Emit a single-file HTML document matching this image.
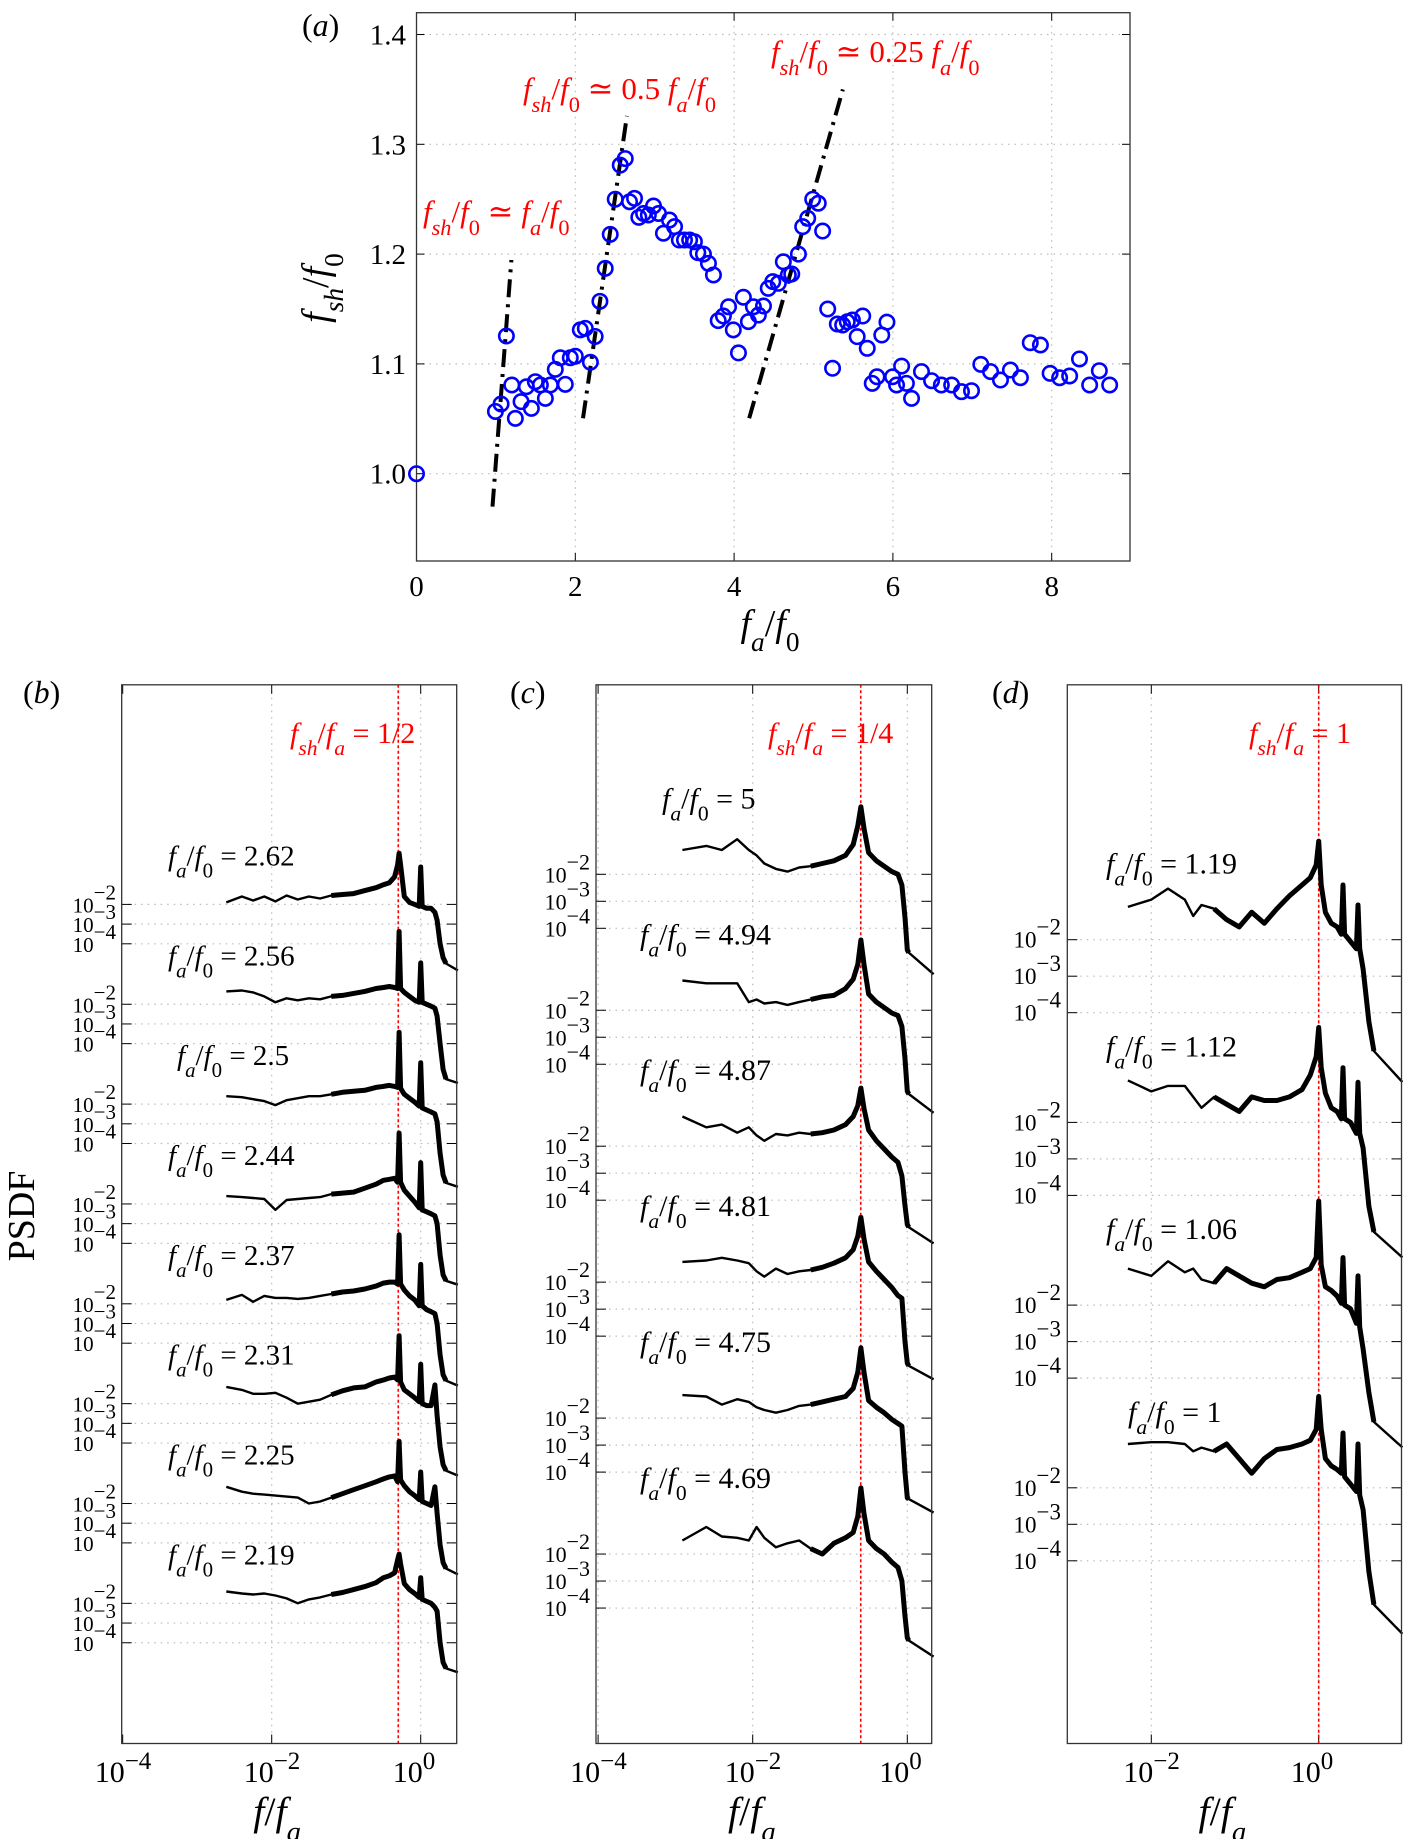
<!DOCTYPE html>
<html><head><meta charset="utf-8"><style>
html,body{margin:0;padding:0;background:#fff}
svg{display:block}
svg text, svg tspan{font-family:"Liberation Serif","DejaVu Serif",serif}
</style></head><body>
<svg id="fig" width="1403" height="1839" viewBox="0 0 1403 1839" xmlns="http://www.w3.org/2000/svg"></svg>
<script>
// ---------- Panel (a) data ----------
const aX = [0,0.994,1.065,1.132,1.2,1.245,1.317,1.384,1.447,1.497,1.56,1.623,1.686,1.748,1.811,1.874,1.937,2.0,2.063,2.126,2.19,2.25,2.31,2.377,2.44,2.503,2.566,2.629,2.683,2.746,2.80,2.86,2.92,2.985,3.048,3.11,3.186,3.25,3.31,3.375,3.44,3.50,3.543,3.614,3.677,3.74,3.80,3.865,3.93,3.99,4.055,4.117,4.18,4.243,4.306,4.37,4.43,4.487,4.557,4.62,4.683,4.726,4.81,4.864,4.927,4.99,5.06,5.115,5.179,5.24,5.30,5.367,5.425,5.49,5.55,5.62,5.677,5.74,5.80,5.86,5.925,5.996,6.046,6.11,6.17,6.235,6.36,6.487,6.61,6.74,6.864,6.99,7.107,7.23,7.355,7.48,7.606,7.73,7.858,7.98,8.10,8.226,8.35,8.478,8.60,8.73];
const aY = [1.0,1.0567,1.0635,1.1254,1.0808,1.0504,1.0656,1.0792,1.0595,1.0838,1.0808,1.0686,1.0808,1.095,1.1056,1.0814,1.1056,1.107,1.131,1.1324,1.1015,1.125,1.157,1.187,1.218,1.25,1.281,1.287,1.2477,1.2508,1.2335,1.237,1.2356,1.2438,1.237,1.219,1.231,1.225,1.2128,1.2128,1.2128,1.2113,1.2013,1.2,1.1916,1.181,1.1394,1.1436,1.152,1.131,1.110,1.1607,1.1385,1.152,1.1445,1.1527,1.1688,1.1749,1.1734,1.193,1.181,1.1819,1.2,1.225,1.2326,1.25,1.2463,1.221,1.15,1.096,1.1363,1.1354,1.1384,1.14,1.1248,1.1436,1.1142,1.0823,1.0883,1.1263,1.138,1.0883,1.0808,1.098,1.0823,1.0686,1.093,1.0847,1.0808,1.0808,1.0747,1.0756,1.0996,1.093,1.0853,1.0944,1.0874,1.1193,1.1172,1.0914,1.0874,1.089,1.1045,1.0808,1.0938,1.0808];
const fitX0 = [0.957, 2.097, 4.19];
const fitY0 = [0.97, 1.0505, 1.0505];
const fitX1 = [1.195, 2.65, 5.37];
const fitY1 = [1.1946, 1.3258, 1.35];
const aXTicks = [0,2,4,6,8];
const aYTicks = [1.0,1.1,1.2,1.3,1.4];
const aYTickLabels = ["1.0","1.1","1.2","1.3","1.4"];

// ---------- Panel (b) data ----------
const bFreq = [-2.61,-2.4,-2.25,-2.1,-1.95,-1.8,-1.65,-1.5,-1.35,-1.2,-1.05,-0.9,-0.75,-0.6,-0.5,-0.42,-0.35,-0.31,-0.29,-0.27,-0.22,-0.15,-0.08,-0.02,0,0.02,0.08,0.14,0.19,0.22,0.26,0.3,0.34,0.5];
const bLabels = ["2.62","2.56","2.5","2.44","2.37","2.31","2.25","2.19"];
const b262 = [-1.9,-1.6,-1.8,-1.6,-1.85,-1.55,-1.75,-1.6,-1.7,-1.55,-1.5,-1.45,-1.3,-1.15,-1.0,-0.9,-0.6,0.0,0.6,0.0,-1.6,-1.9,-2.0,-2.1,-0.1,-2.1,-2.2,-2.2,-2.4,-2.8,-4.0,-4.7,-5.0,-5.35];
const b256 = [-1.35,-1.3,-1.4,-1.6,-1.9,-1.7,-1.8,-1.7,-1.75,-1.6,-1.55,-1.45,-1.35,-1.2,-1.15,-1.1,-1.15,-1.2,1.7,-1.2,-1.4,-1.6,-1.8,-1.9,0.1,-1.9,-2.0,-2.1,-2.2,-2.6,-4.0,-5.3,-5.8,-6.0];
const b250 = [-1.6,-1.65,-1.75,-1.85,-2.05,-1.8,-1.7,-1.6,-1.6,-1.5,-1.4,-1.35,-1.3,-1.15,-1.1,-1.05,-1.1,-1.15,1.65,-1.2,-1.5,-1.7,-1.9,-2.1,0.1,-2.2,-2.3,-2.4,-2.5,-2.9,-4.5,-5.6,-6.0,-6.2];
const b244 = [-1.6,-1.65,-1.7,-1.75,-2.3,-1.8,-1.75,-1.7,-1.65,-1.5,-1.45,-1.4,-1.2,-1.0,-0.8,-0.75,-0.7,-0.9,1.6,-0.9,-1.3,-1.6,-1.9,-2.2,0.1,-2.3,-2.4,-2.5,-2.6,-3.0,-4.6,-5.6,-5.9,-6.1];
const b237 = [-1.8,-1.55,-1.9,-1.6,-1.7,-1.7,-1.75,-1.7,-1.6,-1.5,-1.4,-1.35,-1.25,-1.1,-0.95,-0.9,-0.9,-1.0,1.5,-1.0,-1.3,-1.6,-1.8,-2.1,0.0,-2.1,-2.3,-2.4,-2.5,-3.0,-4.6,-5.6,-5.9,-6.15];
const b231 = [-1.15,-1.3,-1.5,-1.5,-1.45,-1.7,-2.0,-1.9,-1.8,-1.55,-1.35,-1.2,-1.15,-0.9,-0.8,-0.7,-0.65,-0.8,1.45,-0.9,-1.3,-1.5,-1.7,-1.9,0.0,-2.0,-2.1,-2.1,-1.05,-2.6,-4.2,-5.1,-5.4,-5.65];
const b225 = [-1.15,-1.4,-1.5,-1.55,-1.6,-1.65,-1.7,-2.0,-1.9,-1.7,-1.5,-1.3,-1.1,-0.9,-0.75,-0.65,-0.6,-0.9,1.15,-0.8,-1.1,-1.4,-1.6,-1.8,-0.4,-1.9,-2.0,-2.1,-1.15,-2.5,-4.1,-5.0,-5.3,-5.6];
const b219 = [-1.4,-1.5,-1.55,-1.5,-1.6,-1.75,-2.0,-1.8,-1.7,-1.55,-1.45,-1.3,-1.15,-0.95,-0.7,-0.6,-0.45,0.2,0.5,0.0,-1.0,-1.3,-1.5,-1.7,-0.7,-1.8,-1.9,-2.0,-2.2,-2.4,-4.0,-5.0,-5.3,-5.5];

// ---------- Panel (c) data ----------
const cFreq = [-2.91,-2.6,-2.4,-2.2,-2.05,-1.95,-1.85,-1.7,-1.55,-1.4,-1.25,-1.1,-0.95,-0.8,-0.7,-0.64,-0.6,-0.56,-0.5,-0.4,-0.3,-0.2,-0.12,-0.07,-0.03,0,0.02,0.34];
const cLabels = ["5","4.94","4.87","4.81","4.75","4.69"];
const c500 = [-1.1,-0.95,-1.1,-0.7,-1.1,-1.3,-1.6,-1.8,-1.9,-1.75,-1.7,-1.6,-1.5,-1.3,-0.9,-0.2,0.5,-0.3,-1.2,-1.5,-1.7,-1.9,-2.0,-2.4,-3.6,-4.8,-4.9,-5.7];
const c494 = [-0.9,-1.0,-1.0,-1.0,-1.7,-1.6,-1.75,-1.7,-1.8,-1.7,-1.6,-1.5,-1.45,-1.2,-0.85,-0.3,0.6,-0.3,-1.4,-1.7,-1.9,-2.1,-2.2,-2.6,-3.8,-5.0,-5.1,-5.8];
const c487 = [-0.9,-1.3,-1.2,-1.5,-1.3,-1.6,-1.8,-1.55,-1.6,-1.5,-1.55,-1.5,-1.4,-1.2,-0.9,-0.5,0.15,-0.6,-1.4,-1.8,-2.1,-2.4,-2.6,-3.1,-4.2,-4.9,-5.0,-5.6];
const c481 = [-1.25,-1.2,-1.1,-1.2,-1.3,-1.6,-1.8,-1.5,-1.7,-1.6,-1.55,-1.45,-1.3,-1.1,-0.8,-0.3,0.4,-0.4,-1.25,-1.6,-1.9,-2.2,-2.5,-2.6,-4.2,-5.0,-5.1,-5.6];
const c475 = [-1.15,-1.2,-1.5,-1.3,-1.4,-1.6,-1.7,-1.8,-1.7,-1.55,-1.5,-1.4,-1.3,-1.2,-0.9,-0.3,0.6,-0.3,-1.35,-1.6,-1.8,-2.05,-2.2,-2.3,-4.0,-4.95,-5.0,-5.5];
const c469 = [-1.5,-1.0,-1.35,-1.4,-1.5,-1.0,-1.4,-1.75,-1.6,-1.5,-1.8,-2.0,-1.6,-1.4,-1.2,-0.6,0.45,-0.5,-1.5,-1.8,-2.0,-2.3,-2.5,-3.0,-4.3,-5.1,-5.2,-5.8];

// ---------- Panel (d) data ----------
const dFreq = [-2.28,-2.0,-1.8,-1.6,-1.5,-1.4,-1.25,-1.1,-0.95,-0.8,-0.65,-0.5,-0.35,-0.2,-0.1,-0.03,0,0.03,0.08,0.15,0.22,0.27,0.29,0.31,0.38,0.45,0.47,0.49,0.53,0.6,0.66,1.0];
const dLabels = ["1.19","1.12","1.06","1"];
const d119 = [-1.1,-0.9,-0.6,-0.9,-1.35,-1.05,-1.15,-1.45,-1.65,-1.25,-1.55,-1.15,-0.8,-0.5,-0.3,0.05,0.7,-0.5,-1.25,-1.55,-1.65,-1.85,-0.5,-1.85,-2.05,-2.25,-1.05,-2.25,-2.8,-4.25,-5.05,-5.9];
const d112 = [-0.85,-1.15,-1.0,-1.0,-1.3,-1.6,-1.3,-1.5,-1.7,-1.3,-1.4,-1.4,-1.3,-1.1,-0.7,-0.2,0.6,-0.5,-1.2,-1.6,-1.7,-1.9,-0.5,-1.9,-2.0,-2.3,-0.9,-2.3,-2.7,-4.3,-5.0,-5.7];
const d106 = [-1.0,-1.2,-0.8,-1.1,-1.0,-1.3,-1.4,-1.0,-1.2,-1.4,-1.5,-1.3,-1.25,-1.1,-1.0,-0.7,0.85,-0.9,-1.5,-1.6,-1.75,-1.95,-0.7,-2.0,-2.1,-2.5,-1.2,-2.6,-3.2,-4.4,-5.2,-5.9];
const d100 = [-0.8,-0.75,-0.75,-0.8,-1.0,-0.9,-1.0,-0.8,-1.2,-1.6,-1.2,-0.95,-0.9,-0.8,-0.7,-0.4,0.5,-0.4,-1.2,-1.4,-1.5,-1.6,-0.5,-1.7,-1.9,-2.1,-0.8,-2.2,-2.6,-4.3,-5.2,-6.0];

const psdTicks = [-2,-3,-4];
const shRatio = [0.5, 0.25, 1];

const NS = "http://www.w3.org/2000/svg";
const svg = document.getElementById('fig');
const FONT = '"Liberation Serif", serif';
function el(tag, attrs, parent) {
  const e = document.createElementNS(NS, tag);
  for (const k in attrs) e.setAttribute(k, attrs[k]);
  if (tag === 'text') e.setAttribute('font-family', FONT);
  (parent || svg).appendChild(e);
  return e;
}
function math(parent, x, y, size, color, parts, anchor) {
  const t = el('text', {x: x, y: y, 'font-size': size, fill: color, 'text-anchor': anchor || 'start'}, parent);
  parts.forEach(p => {
    const s = el('tspan', {}, t);
    s.setAttribute('font-family', FONT);
    if (p[1]) s.setAttribute('font-style', 'italic');
    if (p[2] === 'sub') { s.setAttribute('baseline-shift', 'sub'); s.setAttribute('font-size', size * 0.72); }
    s.textContent = p[0];
  });
  return t;
}

// ================= Panel (a) =================
const A = {l: 416.5, r: 1130, t: 12.7, b: 561};
const ax = v => A.l + v * 79.4;
const ay = v => 473.7 - (v - 1) * 1098;
const ga = el('g', {});


aXTicks.forEach(v => {
  if (v > 0) {
    const g = el('line', {x1: ax(v), x2: ax(v), y1: A.t, y2: A.b, stroke: '#bbb', 'stroke-dasharray': '1.5,5', 'stroke-width': 1.2}, ga);
    
    
  }
  el('line', {x1: ax(v), x2: ax(v), y1: A.b, y2: A.b - 8, stroke: '#000', 'stroke-width': 1}, ga);
  el('line', {x1: ax(v), x2: ax(v), y1: A.t, y2: A.t + 8, stroke: '#000', 'stroke-width': 1}, ga);
  const t = el('text', {x: ax(v), y: 596, 'font-size': 29, 'text-anchor': 'middle'}, ga);
  
  
  t.textContent = String(v);
});
aYTicks.forEach((v, i) => {
  const g = el('line', {x1: A.l, x2: A.r, y1: ay(v), y2: ay(v), stroke: '#bbb', 'stroke-dasharray': '1.5,5', 'stroke-width': 1.2}, ga);
  
  
  el('line', {x1: A.l, x2: A.l + 8, y1: ay(v), y2: ay(v), stroke: '#000', 'stroke-width': 1}, ga);
  el('line', {x1: A.r, x2: A.r - 8, y1: ay(v), y2: ay(v), stroke: '#000', 'stroke-width': 1}, ga);
  const t = el('text', {x: 406, y: ay(v) + 10, 'font-size': 29, 'text-anchor': 'end'}, ga);
  
  
  t.textContent = aYTickLabels[i];
});
const fa = el('rect', {x: A.l, y: A.t, width: A.r - A.l, height: A.b - A.t, fill: 'none', stroke: '#333', 'stroke-width': 1.3}, ga);


fitX0.forEach((x0, i) => {
  const l = el('line', {x1: ax(x0), y1: ay(fitY0[i]), x2: ax(fitX1[i]), y2: ay(fitY1[i]), stroke: '#000', 'stroke-width': 4, 'stroke-dasharray': '18,7,3,7'}, ga);
  
  
});
aX.forEach((x, i) => {
  const c = el('circle', {cx: ax(x), cy: ay(aY[i]), r: 7.2, fill: 'none', stroke: '#0000ff', 'stroke-width': 2.6}, ga);
  
  
});
const rl1 = math(ga, 423, 222, 31, '#ff0000', [['f',1],['sh',1,'sub'],['/',0],['f',1],['0',0,'sub'],[' \u2243 ',0],['f',1],['a',1,'sub'],['/',0],['f',1],['0',0,'sub']]);


const rl2 = math(ga, 523, 99, 31, '#ff0000', [['f',1],['sh',1,'sub'],['/',0],['f',1],['0',0,'sub'],[' \u2243 0.5 ',0],['f',1],['a',1,'sub'],['/',0],['f',1],['0',0,'sub']]);


const rl3 = math(ga, 771, 62, 31, '#ff0000', [['f',1],['sh',1,'sub'],['/',0],['f',1],['0',0,'sub'],[' \u2243 0.25 ',0],['f',1],['a',1,'sub'],['/',0],['f',1],['0',0,'sub']]);


const pa = el('text', {x: 302, y: 36, 'font-size': 32}, ga);


pa.innerHTML = '(<tspan font-style="italic">a</tspan>)';
const xla = math(ga, 770, 636, 38, '#000', [['f',1],['a',1,'sub'],['/',0],['f',1],['0',0,'sub']], 'middle');


const yla = math(ga, 0, 0, 38, '#000', [['f',1],['sh',1,'sub'],['/',0],['f',1],['0',0,'sub']], 'middle');
yla.setAttribute('transform', 'translate(328,288) rotate(-90)');



// ================= Panels (b),(c),(d) =================
const TOP = 684.8, BOT = 1743.5;
const panels = [
  {id: 'b', l: 121.7, r: 456.7, x0: 420.7, dec: 74.5, freq: bFreq, curves: [b262,b256,b250,b244,b237,b231,b225,b219], labels: bLabels,
   T0: 904.4, gs: 99.85, D: 19.7, labX: 168, labDy: -39, labFs: 29, tickLabX: 116, tickFs: 21, xt: [-4,-2,0],
   red: '1/2', redX: 290, title: 'b', titleX: 23},
  {id: 'c', l: 596, r: 931.7, x0: 907.3, dec: 77.3, freq: cFreq, curves: [c500,c494,c487,c481,c475,c469], labels: cLabels,
   T0: 874.3, gs: 135.95, D: 27, labX: 640, labDy: -66, labFs: 30, tickLabX: 590, tickFs: 22, xt: [-4,-2,0],
   red: '1/4', redX: 768, title: 'c', titleX: 510},
  {id: 'd', l: 1067.3, r: 1401.5, x0: 1318.7, dec: 83.7, freq: dFreq, curves: [d119,d112,d106,d100], labels: dLabels,
   T0: 939.7, gs: 182.7, D: 36.5, labX: 1106, labDy: -66, labFs: 30, tickLabX: 1061, tickFs: 23, xt: [-2,0],
   red: '1', redX: 1249, title: 'd', titleX: 992}
];
panels.forEach((P, pi) => {
  const g = el('g', {});
  
  
  const px = lf => P.x0 + lf * P.dec;
  P.xt.forEach(d => {
    const x = px(d);
    if (x > P.l + 1) {
      const gl = el('line', {x1: x, x2: x, y1: TOP, y2: BOT, stroke: '#bbb', 'stroke-dasharray': '1.5,5', 'stroke-width': 1.2}, g);
      
      
    }
    el('line', {x1: x, x2: x, y1: BOT, y2: BOT - 9, stroke: '#000', 'stroke-width': 1}, g);
    el('line', {x1: x, x2: x, y1: TOP, y2: TOP + 9, stroke: '#000', 'stroke-width': 1}, g);
    const t = el('text', {x: x - 28, y: 1782, 'font-size': 30}, g);
    
    
    t.innerHTML = '10<tspan dy="-13" font-size="25">' + (d === 0 ? '0' : '\u2212' + (-d)) + '</tspan>';
  });
  P.curves.forEach((cv, gi) => {
    const T = P.T0 + gi * P.gs;
    psdTicks.forEach(e => {
      const y = T - (e + 2) * P.D;
      const gl = el('line', {x1: P.l, x2: P.r, y1: y, y2: y, stroke: '#bbb', 'stroke-dasharray': '1.5,5', 'stroke-width': 1.2}, g);
      
      
      el('line', {x1: P.l, x2: P.l + 10, y1: y, y2: y, stroke: '#000', 'stroke-width': 1}, g);
      el('line', {x1: P.r, x2: P.r - 10, y1: y, y2: y, stroke: '#000', 'stroke-width': 1}, g);
      const t = el('text', {x: P.tickLabX, y: y + 8, 'font-size': P.tickFs, 'text-anchor': 'end'}, g);
      
      
      t.innerHTML = '10<tspan dy="-13">\u2212' + (-e) + '</tspan>';
    });
  });
  const rx = px(Math.log10(shRatio[pi]));
  const rl = el('line', {x1: rx, x2: rx, y1: TOP, y2: BOT, stroke: '#ff0000', 'stroke-width': 1.6, 'stroke-dasharray': '3,2.5'}, g);
  
  
  const rt = math(g, P.redX, 743, 30, '#ff0000', [['f',1],['sh',1,'sub'],['/',0],['f',1],['a',1,'sub'],[' = ' + P.red,0]]);
  
  
  P.curves.forEach((cv, gi) => {
    const T = P.T0 + gi * P.gs;
    const pts = cv.map((v, i) => [px(P.freq[i]), T - (v + 2) * P.D]);
    const d = pts.map((p, i) => (i ? 'L' : 'M') + p[0].toFixed(1) + ' ' + p[1].toFixed(1)).join(' ');
    const path = el('path', {d: d, fill: 'none', stroke: '#000', 'stroke-width': 2.4, 'stroke-linejoin': 'round'}, g);
    
    
    // noisy band overlay (thicker stroke over the high-frequency part)
    const sub = pts.filter((p, i) => P.freq[i] >= -1.3 && i < pts.length - 1);
    const d2 = sub.map((p, i) => (i ? 'L' : 'M') + p[0].toFixed(1) + ' ' + p[1].toFixed(1)).join(' ');
    const band = el('path', {d: d2, fill: 'none', stroke: '#000', 'stroke-width': 5, 'stroke-linejoin': 'round'}, g);
    
    
    const lx = (P.id === 'b' && gi === 2) ? P.labX + 9 : (P.id === 'c' && gi === 0) ? P.labX + 22 : (P.id === 'd' && gi === 3) ? P.labX + 22 : P.labX;
    const lt = math(g, lx, T + P.labDy, P.labFs, '#000', [['f',1],['a',1,'sub'],['/',0],['f',1],['0',0,'sub'],[' = ' + P.labels[gi],0]]);
    
    
  });
  const fr = el('rect', {x: P.l, y: TOP, width: P.r - P.l, height: BOT - TOP, fill: 'none', stroke: '#333', 'stroke-width': 1.3}, g);
  
  
  const tt = el('text', {x: P.titleX, y: 703, 'font-size': 32}, g);
  
  
  tt.innerHTML = '(<tspan font-style="italic">' + P.title + '</tspan>)';
  const xl = math(g, (P.l + P.r) / 2 - 12, 1825, 40, '#000', [['f',1],['/',0],['f',1],['a',1,'sub']], 'middle');
  
  
});
const psdf = el('text', {x: 0, y: 0, 'font-size': 38, 'text-anchor': 'middle', transform: 'translate(34,1216) rotate(-90)'});


psdf.textContent = 'PSDF';
</script>
</body></html>
